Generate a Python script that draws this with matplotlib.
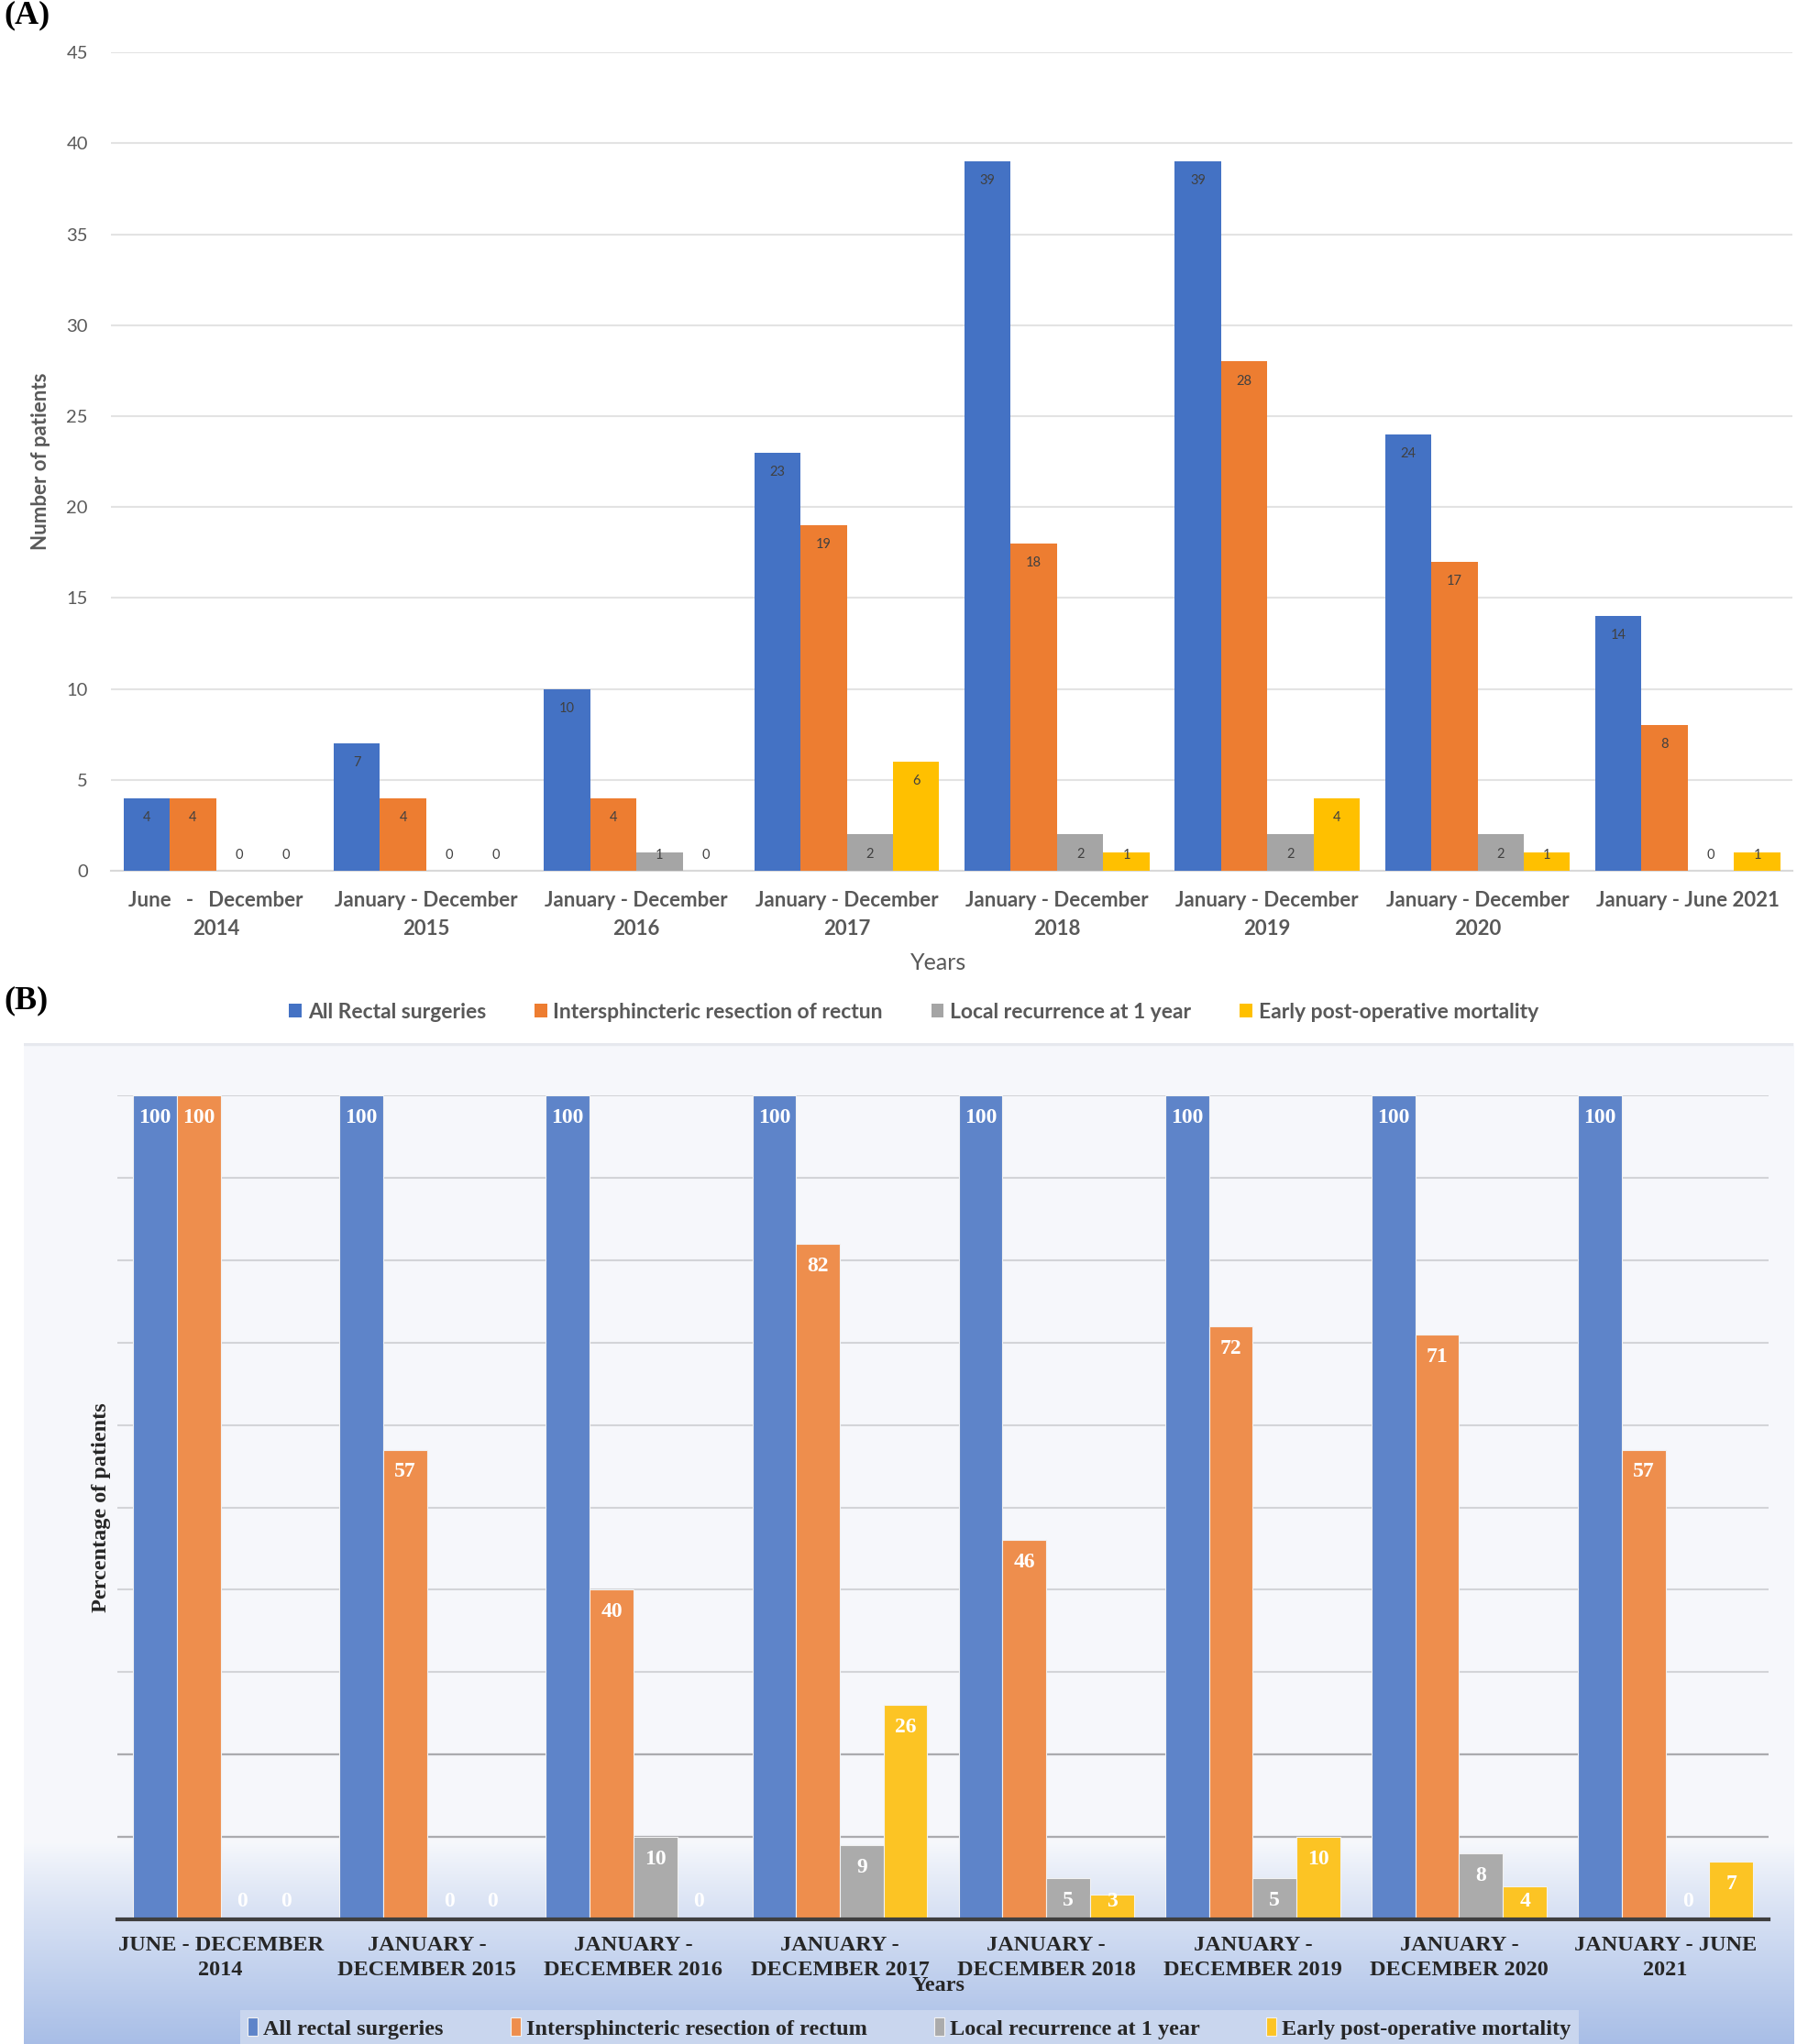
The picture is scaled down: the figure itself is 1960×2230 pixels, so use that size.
import numpy as np
import matplotlib.pyplot as plt
from matplotlib.patches import Rectangle

# Panel A - absolute counts
labels_a = ["June   -   December\n2014", "January - December\n2015", "January - December\n2016",
            "January - December\n2017", "January - December\n2018", "January - December\n2019",
            "January - December\n2020", "January - June 2021"]
all_rectal = [4, 7, 10, 23, 39, 39, 24, 14]
isr = [4, 4, 4, 19, 18, 28, 17, 8]
recurrence = [0, 0, 1, 2, 2, 2, 2, 0]
mortality = [0, 0, 0, 6, 1, 4, 1, 1]
series_a = ["All Rectal surgeries", "Intersphincteric resection of rectun",
            "Local recurrence at 1 year", "Early post-operative mortality"]

# Panel B - percentages
labels_b = ["JUNE - DECEMBER\n2014", "JANUARY -\nDECEMBER 2015", "JANUARY -\nDECEMBER 2016",
            "JANUARY -\nDECEMBER 2017", "JANUARY -\nDECEMBER 2018", "JANUARY -\nDECEMBER 2019",
            "JANUARY -\nDECEMBER 2020", "JANUARY - JUNE\n2021"]
pct_all = [100, 100, 100, 100, 100, 100, 100, 100]
pct_isr = [100, 57, 40, 82, 46, 72, 71, 57]
pct_rec = [0, 0, 10, 9, 5, 5, 8, 0]
pct_mort = [0, 0, 0, 26, 3, 10, 4, 7]
series_b = ["All rectal surgeries", "Intersphincteric resection of rectum",
            "Local recurrence at 1 year", "Early post-operative mortality"]

colors_a = ["#4472C4", "#ED7D31", "#A5A5A5", "#FFC000"]
colors_b = ["#5E84C9", "#EE8E4D", "#ABABAB", "#FCC424"]

SANS = "Lato"
SERIF = "Liberation Serif"

fig = plt.figure(figsize=(19.6, 22.3), dpi=100)

# ---------- Panel A ----------
ax = fig.add_axes([0.0617, 0.574, 0.936, 0.4004])
x = np.arange(len(labels_a))
w = 0.22
data_a = [all_rectal, isr, recurrence, mortality]
for k, (vals, c, name) in enumerate(zip(data_a, colors_a, series_a)):
    pos = x + (k - 1.5) * w
    ax.bar(pos, vals, w, color=c, label=name, zorder=3)
    for xi, v in zip(pos, vals):
        ax.text(xi, max(v - 1.07, 0.86), str(v), ha="center", va="center",
                fontsize=10.5, color="#404040", family=SANS, zorder=4)

ax.set_xlim(-0.5, len(labels_a) - 0.5)
ax.set_ylim(0, 45)
ax.set_yticks(range(0, 46, 5))
ax.yaxis.grid(True, color="#E3E3E3", lw=1.5, zorder=0)
ax.set_axisbelow(True)
for s in ["top", "right", "left"]:
    ax.spines[s].set_visible(False)
ax.spines["bottom"].set_color("#D9D9D9")
ax.spines["bottom"].set_linewidth(1.5)
ax.set_xticks(x)
ax.set_xticklabels(labels_a, fontsize=16, family=SANS, fontweight="bold", color="#595959",
                   linespacing=1.55)
ax.tick_params(axis="x", length=0, pad=16)
ax.tick_params(axis="y", length=0, pad=18, labelsize=14.5, labelcolor="#595959")
for t in ax.get_yticklabels():
    t.set_family(SANS)
ax.set_ylabel("Number of patients", fontsize=16, family=SANS, fontweight="bold",
              color="#595959")
ax.yaxis.set_label_coords(-0.036, 0.5)
fig.text(0.522, 1 - 1051 / 2230, "Years", ha="center", va="center", fontsize=18,
         family=SANS, color="#595959")
leg = fig.legend(*ax.get_legend_handles_labels(), loc="center",
                 bbox_to_anchor=(0.5085, 1 - 1104 / 2230), ncol=4, frameon=False,
                 handlelength=0.6, handleheight=0.6, handletextpad=0.3, columnspacing=2.3,
                 prop={"family": SANS, "size": 16.5, "weight": "bold"})
for t in leg.get_texts():
    t.set_color("#595959")

fig.text(0.002, 1 - 17 / 2230, "(A)", ha="left", va="center", fontsize=26,
         family=SERIF, fontweight="bold")
fig.text(0.002, 1 - 1092 / 2230, "(B)", ha="left", va="center", fontsize=26,
         family=SERIF, fontweight="bold")

# ---------- Panel B ----------
# gradient background
bg = fig.add_axes([26 / 1960, 0, (1956 - 26) / 1960, (2230 - 1138) / 2230], zorder=0)
n = 400
tt = np.linspace(0, 1, n)  # 0 top -> 1 bottom
top_c = np.array([0.965, 0.972, 0.988])
bot_c = np.array([0.660, 0.745, 0.905])
frac = np.clip((tt - 0.80) / 0.20, 0, 1) ** 0.9
grad = top_c[None, :] * (1 - frac[:, None]) + bot_c[None, :] * frac[:, None]
bg.imshow(grad[:, None, :], aspect="auto", extent=[0, 1, 0, 1])
bg.axis("off")
bg.add_patch(Rectangle((0, 0.9985), 1, 0.0015, color="#E6E8EE", transform=bg.transAxes))

bx = fig.add_axes([0.0653, 0.061, 0.919, 0.4031], zorder=1)
bx.patch.set_alpha(0)
xb = np.arange(len(labels_b))
wb = 0.212
data_b = [pct_all, pct_isr, pct_rec, pct_mort]
for k, (vals, c, name) in enumerate(zip(data_b, colors_b, series_b)):
    pos = xb + (k - 1.5) * wb
    bx.bar(pos, vals, wb, color=c, label=name, edgecolor="#F2F2F2", linewidth=0.8, zorder=3)
    for xi, v in zip(pos, vals):
        bx.text(xi, max(v - 2.7, 2.2), str(v), ha="center", va="center", fontsize=17,
                family=SERIF, fontweight="bold", color="white", zorder=4)

bx.set_xlim(-0.5, len(labels_b) - 0.5)
bx.set_ylim(0, 100)
bx.set_yticks(range(0, 101, 10))
bx.set_yticklabels([])
bx.yaxis.grid(True, color="#D3D4D8", lw=1.5, zorder=0)
for lvl in (10, 20):
    bx.axhline(lvl, color="#ABABAF", lw=1.6, zorder=1)
bx.set_axisbelow(True)
for s in ["top", "right", "left"]:
    bx.spines[s].set_visible(False)
bx.spines["bottom"].set_color("#3F3F3F")
bx.spines["bottom"].set_linewidth(3)
bx.spines["bottom"].set_zorder(5)
bx.set_xticks(xb)
bx.set_xticklabels(labels_b, fontsize=17.5, family=SERIF, fontweight="bold",
                   color="#262626", linespacing=1.4)
bx.tick_params(axis="x", length=0, pad=13)
bx.tick_params(axis="y", length=0)
bx.set_ylabel("Percentage of patients", fontsize=17.5, family=SERIF, fontweight="bold",
              color="#262626")
bx.yaxis.set_label_coords(-0.004, 0.5)
fig.text(1024 / 1960, 1 - 2166 / 2230, "Years", ha="center", va="center", fontsize=17.5,
         family=SERIF, fontweight="bold", color="#262626", zorder=6)
legb = fig.legend(*bx.get_legend_handles_labels(), loc="center",
                  bbox_to_anchor=(992 / 1960, 1 - 2213 / 2230), ncol=4, frameon=True,
                  fancybox=False, handlelength=0.45, handleheight=0.9, handletextpad=0.25,
                  columnspacing=3.0, borderpad=0.35, borderaxespad=0,
                  prop={"family": SERIF, "size": 17.5, "weight": "bold"})
legb.get_frame().set_facecolor("#C9D6EE")
legb.get_frame().set_edgecolor("none")
legb.get_frame().set_alpha(1)
for t in legb.get_texts():
    t.set_color("#262626")

fig.savefig("out.png", dpi=100)
